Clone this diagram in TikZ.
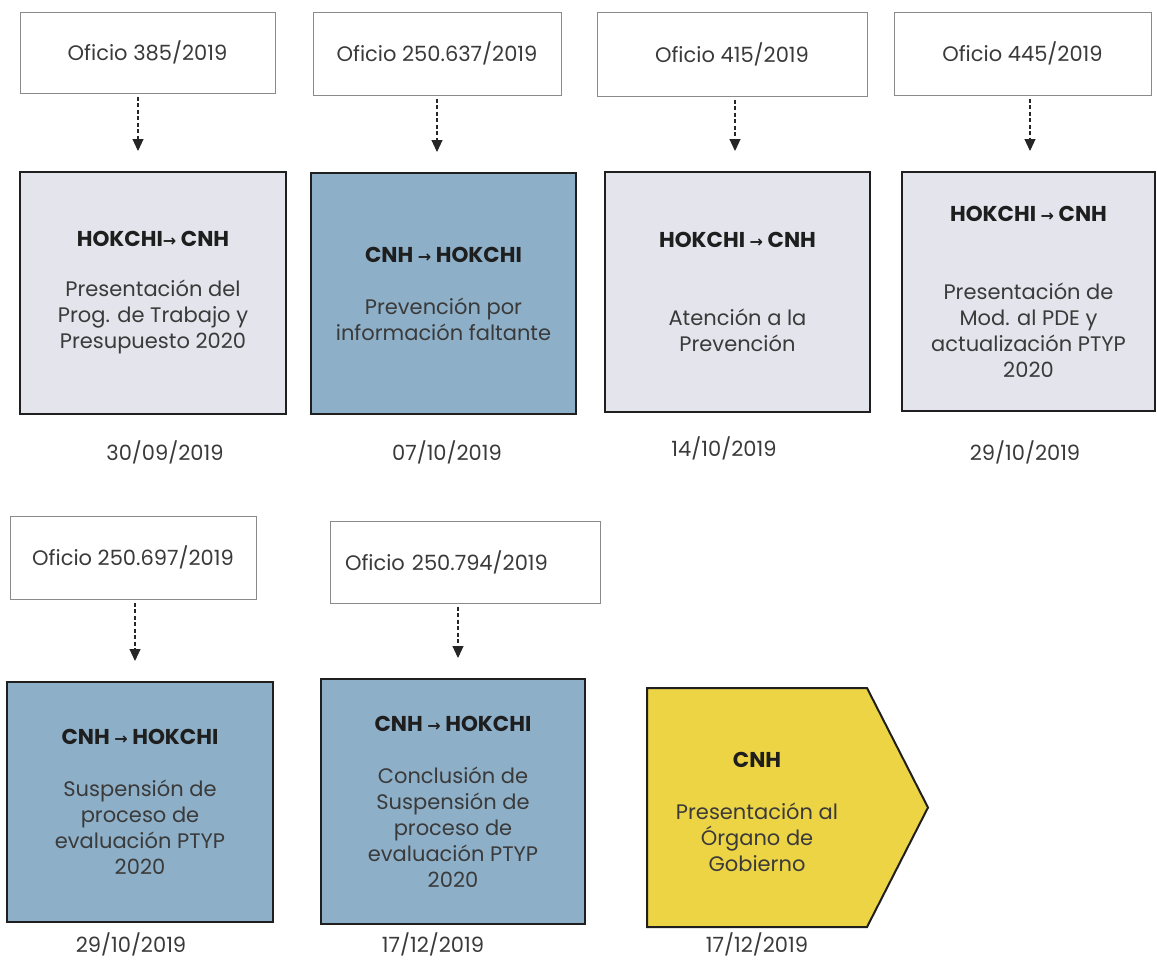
\documentclass[tikz,border=0pt]{standalone}
\usepackage{fontspec}
\setmainfont{Poppins}
\newfontfamily\arrfont{DejaVu Sans}
\usetikzlibrary{arrows.meta}
\definecolor{grayfill}{HTML}{E3E4EC}
\definecolor{bluefill}{HTML}{8DAFC8}
\definecolor{yellowfill}{HTML}{EDD445}
\definecolor{txt}{HTML}{3A3A3A}
\definecolor{hd}{HTML}{1E1E1E}
\definecolor{ofiline}{HTML}{8A8A8A}
\newcommand{\rarr}{{\arrfont\bfseries\fontsize{16}{16}\selectfont →}}
\newcommand{\hdg}[1]{{\fontsize{21.5}{26}\selectfont\bfseries\color{hd}#1}}
\begin{document}
\begin{tikzpicture}[x=1pt,y=-1pt,
  every node/.style={font=\fontsize{21}{26}\selectfont, text=txt},
  ofibox/.style={draw=ofiline, line width=1pt, inner sep=0, fill=white},
  stagebox/.style={draw=black!88, line width=2pt, inner sep=0, align=center},
  datelbl/.style={inner sep=0},
  conn/.style={draw=black!85, line width=1.1pt, dash pattern=on 4pt off 2.5pt,
    -{Triangle[width=11pt,length=12pt]}, shorten <=3pt, shorten >=20pt}]
\useasboundingbox (0,0) rectangle (1157,959);
\fill[white] (0,0) rectangle (1157,959);

% ---------- row 1 ----------
\node[ofibox, minimum width=255, minimum height=81] (tA) at (147.5,52.5) {Oficio 385/2019};
\node[ofibox, minimum width=248, minimum height=83] (tB) at (437,53.5) {Oficio 250.637/2019};
\node[ofibox, minimum width=270, minimum height=84] (tC) at (732,54) {Oficio 415/2019};
\node[ofibox, minimum width=257, minimum height=83] (tD) at (1022.5,53.5) {Oficio 445/2019};

\node[stagebox, fill=grayfill, minimum width=266, minimum height=242] (bA) at (153,293)
  {\hdg{HOKCHI\rarr{} CNH}\\[24pt]Presentación del\\Prog. de Trabajo y\\Presupuesto 2020};
\node[stagebox, fill=bluefill, minimum width=265, minimum height=241] (bB) at (443.5,293.5)
  {\hdg{CNH \rarr{} HOKCHI}\\[26pt]Prevención por\\información faltante};
\node[stagebox, fill=grayfill, minimum width=265, minimum height=240] (bC) at (737.5,292)
  {\hdg{HOKCHI \rarr{} CNH}\\[52pt]Atención a la\\Prevención};
\node[stagebox, fill=grayfill, minimum width=253, minimum height=239] (bD) at (1028.5,291.5)
  {\hdg{HOKCHI \rarr{} CNH}\\[52pt]Presentación de\\Mod. al PDE y\\actualización PTYP\\2020};

\draw[conn] (tA.south -| 138,0) -- (bA.north -| 138,0);
\draw[conn] (tB.south -| 437,0) -- (bB.north -| 437,0);
\draw[conn] (tC.south -| 735,0) -- (bC.north -| 735,0);
\draw[conn] (tD.south -| 1030,0) -- (bD.north -| 1030,0);

\node[datelbl] (dA) at (165,452) {30/09/2019};
\node[datelbl] (dB) at (447,452) {07/10/2019};
\node[datelbl] (dC) at (724,448) {14/10/2019};
\node[datelbl] (dD) at (1025,452) {29/10/2019};

% ---------- row 2 ----------
\node[ofibox, minimum width=246, minimum height=83] (tE) at (133,557.5) {Oficio 250.697/2019};
\node[ofibox, minimum height=82, text width=240, inner xsep=15, align=left] (tF) at (465,562) {Oficio 250.794/2019};

\node[stagebox, fill=bluefill, minimum width=266, minimum height=240] (bE) at (140,802)
  {\hdg{CNH \rarr{} HOKCHI}\\[26pt]Suspensión de\\proceso de\\evaluación PTYP\\2020};
\node[stagebox, fill=bluefill, minimum width=264, minimum height=245] (bF) at (453,801.5)
  {\hdg{CNH \rarr{} HOKCHI}\\[26pt]Conclusión de\\Suspensión de\\proceso de\\evaluación PTYP\\2020};

\draw[conn] (tE.south -| 135,0) -- (bE.north -| 135,0);
\draw[conn] (tF.south -| 458,0) -- (bF.north -| 458,0);

\draw[draw=black!88, line width=2pt, fill=yellowfill, line join=miter]
  (647,688) -- (867,688) -- (928,807.5) -- (867,927) -- (647,927) -- cycle;
\node[align=center, inner sep=0] (bY) at (757,812)
  {\hdg{CNH}\\[26pt]Presentación al\\Órgano de\\Gobierno};

\node[datelbl] (dE) at (131,944) {29/10/2019};
\node[datelbl] (dF) at (433,944) {17/12/2019};
\node[datelbl] (dY) at (757,944) {17/12/2019};
\end{tikzpicture}
\end{document}
